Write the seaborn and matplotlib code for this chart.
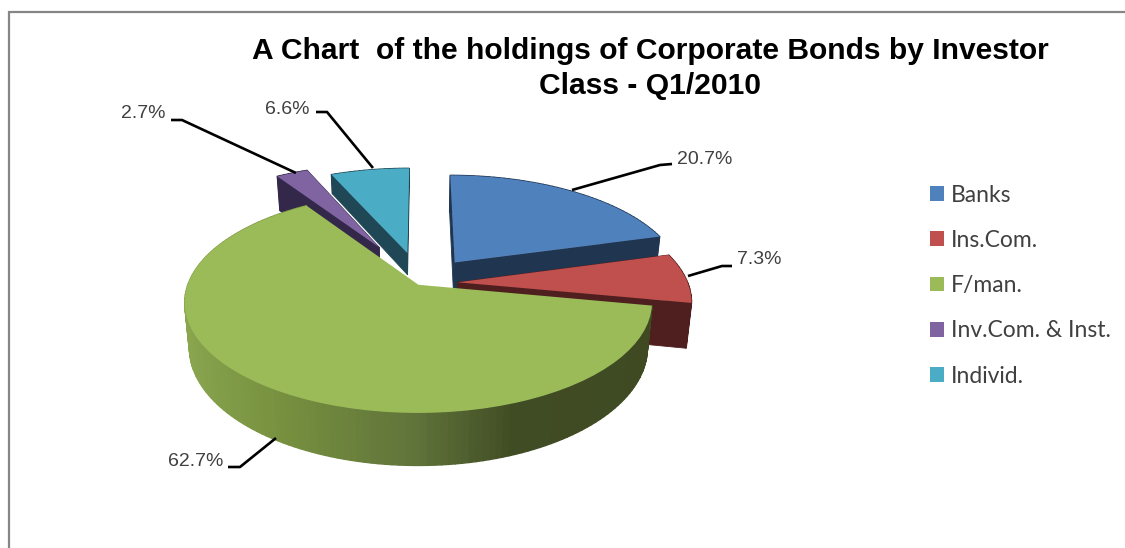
import numpy as np
import matplotlib
matplotlib.use("Agg")
import matplotlib.pyplot as plt
from matplotlib.colors import LinearSegmentedColormap
from matplotlib.transforms import Transform
import seaborn as sns

# --- chart data -----------------------------------------------------------
investors = ["Banks", "Ins.Com.", "F/man.", "Inv.Com. & Inst.", "Individ."]
shares = [20.7, 7.3, 62.7, 2.7, 6.6]

# --- styling --------------------------------------------------------------
top_colors = ["#4F81BD", "#C0504D", "#9BBB59", "#8064A2", "#4BACC6"]
side_colors = ["#1F3550", "#4F1F1F", None, "#33284A", "#1F4755"]
explode = [0.25, 0.16, 0.02, 0.40, 0.30]
wall_height = [1.0, 1.0, 1.0, 0.93, 0.52]
draw_order = [3, 4, 0, 1, 2]
green_side = LinearSegmentedColormap.from_list(
    "green_side", [(0.0, "#8CA850"), (0.25, "#76903F"), (0.5, "#60733A"),
                   (0.68, "#404C23"), (1.0, "#3F4A22")])

CX, CY, RX, RY, PERSP, DEPTH = 421.0, 283.0, 230.0, 107.0, 0.16, 44.0

sns.set_theme(style="white")
plt.rcParams["font.family"] = ["Liberation Sans", "DejaVu Sans"]


class Perspective(Transform):
    """Tilts the flat pie plane and lowers it by z (0 top face, 1 underside)."""
    input_dims = output_dims = 2
    is_separable = False
    has_inverse = False

    def __init__(self, z=0.0):
        super().__init__()
        self.z = z

    def transform_non_affine(self, values):
        values = np.asarray(values, dtype=float)
        u, v = values[:, 0], values[:, 1]
        w = 1 + PERSP * v
        x = CX + RX * u / w * (1 - 0.02 * self.z)
        y = CY - RY * v / w + DEPTH * self.z / w
        return np.column_stack([x, y])


top_plane = Perspective(0.0)

fig = plt.figure(figsize=(11.25, 5.48), dpi=100, facecolor="white")
ax = fig.add_axes([0, 0, 1, 1])
wedges, _ = ax.pie(shares, explode=explode, colors=sns.color_palette(top_colors),
                   startangle=90, counterclock=False, radius=1,
                   wedgeprops=dict(linewidth=0))
ax.set_aspect("auto")
ax.set_xlim(0, 1125)
ax.set_ylim(548, 0)
ax.axis("off")


def rim_point(w, deg):
    a = np.deg2rad(deg)
    return np.array([[w.center[0] + w.r * np.cos(a), w.center[1] + w.r * np.sin(a)]])


for rank, idx in enumerate(draw_order):
    w = wedges[idx]
    base = 1 + rank
    low_plane = Perspective(wall_height[idx])
    # curved outer wall, cut in thin strips so it can carry a shade
    steps = np.arange(w.theta1, w.theta2 + 1.5, 1.5)
    steps[-1] = w.theta2
    for a0, a1 in zip(steps[:-1], steps[1:]):
        p0, p1 = rim_point(w, a0), rim_point(w, a1)
        quad = np.vstack([top_plane.transform(p0), top_plane.transform(p1),
                          low_plane.transform(p1), low_plane.transform(p0)])
        if side_colors[idx] is None:
            color = green_side(0.5 + 0.5 * np.cos(np.deg2rad((a0 + a1) / 2)))
        else:
            color = side_colors[idx]
        ax.fill(quad[:, 0], quad[:, 1], color=color, lw=1.0, zorder=base + 0.1)
    # flat cut faces from the apex to the rim
    if side_colors[idx] is not None:
        apex = np.array([w.center])
        for a in (w.theta1, w.theta2):
            p = rim_point(w, a)
            quad = np.vstack([top_plane.transform(apex), top_plane.transform(p),
                              low_plane.transform(p), low_plane.transform(apex)])
            ax.fill(quad[:, 0], quad[:, 1], color=side_colors[idx], lw=0.6,
                    zorder=base + 0.2)
    w.set_transform(top_plane + ax.transData)
    w.set_clip_on(False)
    w.set_zorder(base + 0.3)

# frame of the chart area (open to the right and the bottom)
ax.plot([9, 9, 1125], [548, 12, 12], color="#868686", lw=1.6, zorder=0.5,
        solid_joinstyle="miter")

# title
ax.text(650, 68.5, "A Chart  of the holdings of Corporate Bonds by Investor\nClass - Q1/2010",
        ha="center", va="center", fontsize=21.6, fontweight="bold", color="black",
        linespacing=1.28, zorder=12)

# data labels with leader lines
leaders = {
    0: ([572, 660, 672], [190, 165, 164]),
    1: ([688, 722, 732], [276, 266, 266]),
    2: ([276, 240, 228], [438, 467, 467]),
    3: ([296, 182, 171], [173, 120, 120]),
    4: ([373, 327, 316], [168, 112, 112]),
}
label_pos = {
    0: (677, 160, "left"),
    1: (737, 260, "left"),
    2: (223, 461, "right"),
    3: (165, 114, "right"),
    4: (310, 109, "right"),
}
for i, value in enumerate(shares):
    xs, ys = leaders[i]
    ax.plot(xs, ys, color="black", lw=1.9, zorder=11, solid_capstyle="butt")
    x, y, ha = label_pos[i]
    ax.text(x, y, f"{value:.1f}%", ha=ha, va="center", fontsize=14,
            color="#404040", zorder=12)

# legend
leg = ax.legend(wedges, investors, loc="upper left",
                bbox_to_anchor=(930 / 1125, 1 - 184.5 / 548), frameon=False,
                prop={"family": "Lato", "size": 16.5}, labelcolor="#404040",
                handlelength=0.61, handleheight=0.61, handletextpad=0.3,
                labelspacing=1.06, borderpad=0, borderaxespad=0)
for t in leg.get_texts():
    t.set_fontfamily("Lato")

fig.savefig("out.png", dpi=100, facecolor="white")
